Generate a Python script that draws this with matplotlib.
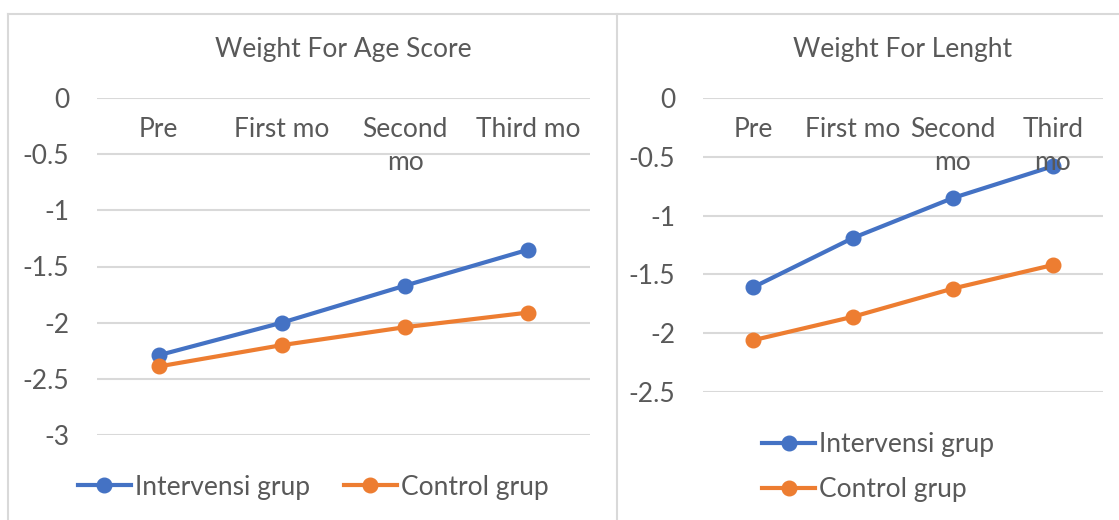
import matplotlib
matplotlib.use('Agg')
import matplotlib.pyplot as plt
from matplotlib.lines import Line2D

# data
age_cats = ['Pre', 'First mo', 'Second\nmo', 'Third mo']
age_interv = [-2.29, -2.00, -1.67, -1.35]
age_control = [-2.39, -2.20, -2.04, -1.91]

len_cats = ['Pre', 'First mo', 'Second\nmo', 'Third\nmo']
len_interv = [-1.61, -1.19, -0.85, -0.58]
len_control = [-2.06, -1.86, -1.62, -1.42]

blue = '#4472c4'
orange = '#ed7d31'
grid = '#d9d9d9'
txt = '#595959'

plt.rcParams['font.family'] = ['Lato', 'DejaVu Sans']
fs = 19

fig = plt.figure(figsize=(11.19, 5.20), dpi=100)

# panel frames (Excel chart borders)
fig.add_artist(Line2D([8/1119, 1], [1 - 14/520] * 2, color=grid, lw=1.5))
fig.add_artist(Line2D([8/1119] * 2, [0, 1 - 14/520], color=grid, lw=1.5))
fig.add_artist(Line2D([617/1119] * 2, [0, 1 - 14/520], color=grid, lw=1.5))


def panel(rect, title, cats, interv, control, ymin, ticks, ncol, leg_anchor, hpx):
    ax = fig.add_axes(rect)
    x = range(len(cats))
    ax.plot(x, interv, color=blue, lw=3, marker='o', ms=10.5, label='Intervensi grup')
    ax.plot(x, control, color=orange, lw=3, marker='o', ms=10.5, label='Control grup')
    ax.set_xlim(-0.5, len(cats) - 0.5)
    ax.set_ylim(ymin, 0)
    ax.set_yticks(ticks)
    ax.set_yticklabels(['%g' % t for t in ticks])
    ax.yaxis.grid(True, color=grid, lw=1.5)
    ax.set_axisbelow(True)
    for s in ax.spines.values():
        s.set_visible(False)
    ax.tick_params(axis='y', length=0, labelsize=fs, labelcolor=txt, pad=20)
    ax.set_xticks([])
    for i, c in enumerate(cats):
        ax.annotate(c, xy=(i, 0), xytext=(0, -14), textcoords='offset points',
                    ha='center', va='top', fontsize=fs, color=txt, linespacing=1.4)
    ax.text(0.5, 1 + 49 / hpx, title, transform=ax.transAxes, ha='center',
            va='center', fontsize=fs, color=txt)
    ax.legend(loc='center', bbox_to_anchor=leg_anchor, bbox_transform=fig.transFigure,
              ncol=ncol, frameon=False, fontsize=fs, labelcolor=txt,
              handlelength=2.0, handletextpad=0.15, columnspacing=1.3, labelspacing=0.75)
    return ax


panel([97/1119, 1 - 435/520, 493/1119, 337/520], 'Weight For Age Score',
      age_cats, age_interv, age_control, -3.0,
      [0, -0.5, -1, -1.5, -2, -2.5, -3], 2, (313/1119, 1 - 487/520), 337)

panel([703/1119, 1 - 392/520, 400/1119, 294/520], 'Weight For Lenght',
      len_cats, len_interv, len_control, -2.5,
      [0, -0.5, -1, -1.5, -2, -2.5], 1, (878/1119, 1 - 467/520), 294)

fig.savefig('out.png', dpi=100)
